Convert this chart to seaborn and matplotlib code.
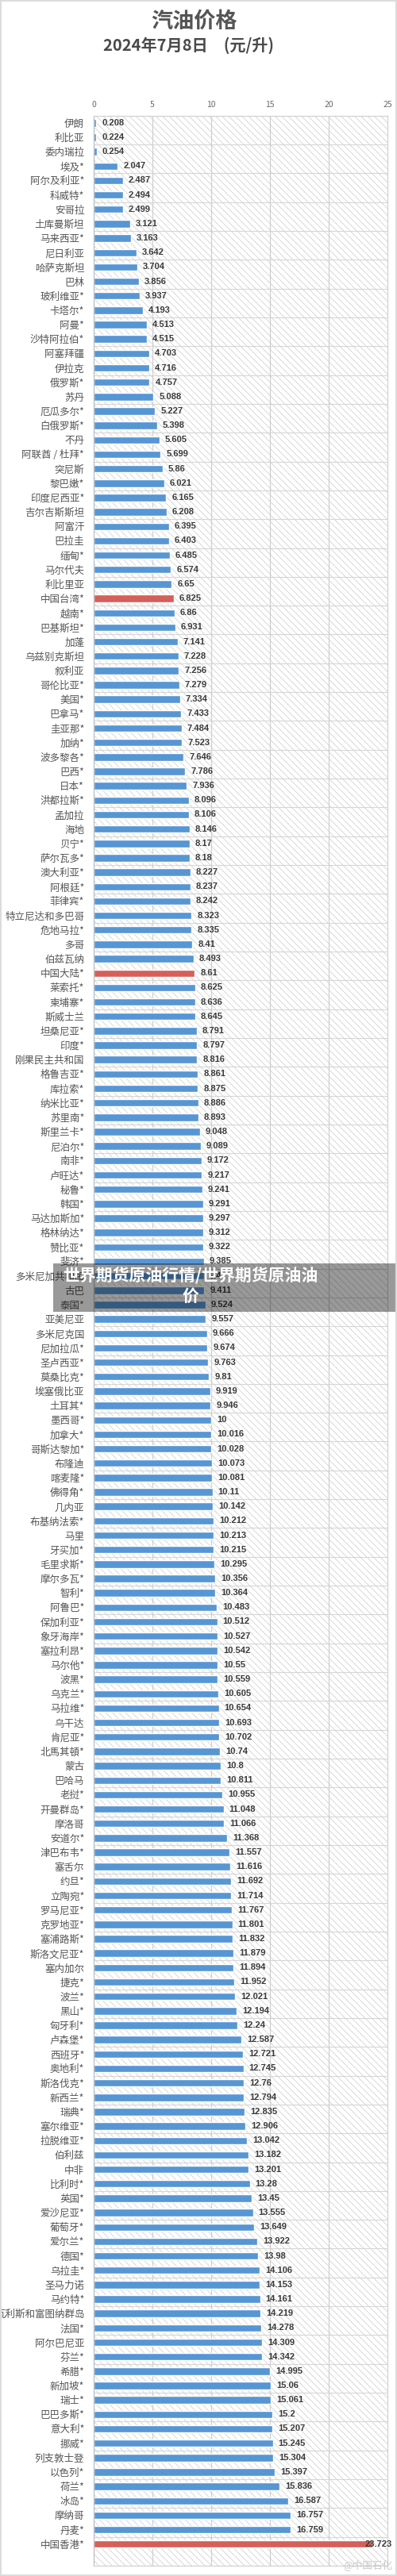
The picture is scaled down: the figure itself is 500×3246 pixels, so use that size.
import numpy as np
import pandas as pd
import matplotlib
matplotlib.use('Agg')
import matplotlib.pyplot as plt
from matplotlib.patches import Rectangle
import seaborn as sns

# 国家 / 地区
countries = [
    '伊朗', '利比亚', '委内瑞拉', '埃及*', '阿尔及利亚*', '科威特*', '安哥拉', '土库曼斯坦',
    '马来西亚*', '尼日利亚', '哈萨克斯坦', '巴林', '玻利维亚*', '卡塔尔*', '阿曼*', '沙特阿拉伯*',
    '阿塞拜疆', '伊拉克', '俄罗斯*', '苏丹', '厄瓜多尔*', '白俄罗斯*', '不丹', '阿联酋 / 杜拜*',
    '突尼斯', '黎巴嫩*', '印度尼西亚*', '吉尔吉斯斯坦', '阿富汗', '巴拉圭', '缅甸*', '马尔代夫',
    '利比里亚', '中国台湾*', '越南*', '巴基斯坦*', '加蓬', '乌兹别克斯坦', '叙利亚', '哥伦比亚*',
    '美国*', '巴拿马*', '圭亚那*', '加纳*', '波多黎各*', '巴西*', '日本*', '洪都拉斯*',
    '孟加拉', '海地', '贝宁*', '萨尔瓦多*', '澳大利亚*', '阿根廷*', '菲律宾*', '特立尼达和多巴哥',
    '危地马拉*', '多哥', '伯兹瓦纳', '中国大陆*', '莱索托*', '柬埔寨*', '斯威士兰', '坦桑尼亚*',
    '印度*', '刚果民主共和国', '格鲁吉亚*', '库拉索*', '纳米比亚*', '苏里南*', '斯里兰卡*', '尼泊尔*',
    '南非*', '卢旺达*', '秘鲁*', '韩国*', '马达加斯加*', '格林纳达*', '赞比亚*', '斐济*',
    '多米尼加共和国', '古巴', '泰国*', '亚美尼亚', '多米尼克国', '尼加拉瓜*', '圣卢西亚*', '莫桑比克*',
    '埃塞俄比亚', '土耳其*', '墨西哥*', '加拿大*', '哥斯达黎加*', '布隆迪', '喀麦隆*', '佛得角*',
    '几内亚', '布基纳法索*', '马里', '牙买加*', '毛里求斯*', '摩尔多瓦*', '智利*', '阿鲁巴*',
    '保加利亚*', '象牙海岸*', '塞拉利昂*', '马尔他*', '波黑*', '乌克兰*', '马拉维*', '乌干达',
    '肯尼亚*', '北馬其頓*', '蒙古', '巴哈马', '老挝*', '开曼群岛*', '摩洛哥', '安道尔*',
    '津巴布韦*', '塞舌尔', '约旦*', '立陶宛*', '罗马尼亚*', '克罗地亚*', '塞浦路斯*', '斯洛文尼亚*',
    '塞内加尔', '捷克*', '波兰*', '黑山*', '匈牙利*', '卢森堡*', '西班牙*', '奥地利*',
    '斯洛伐克*', '新西兰*', '瑞典*', '塞尔维亚*', '拉脱维亚*', '伯利兹', '中非', '比利时*',
    '英国*', '爱沙尼亚*', '葡萄牙*', '爱尔兰*', '德国*', '乌拉圭*', '圣马力诺', '马约特*',
    '瓦利斯和富图纳群岛', '法国*', '阿尔巴尼亚', '芬兰*', '希腊*', '新加坡*', '瑞士*', '巴巴多斯*',
    '意大利*', '挪威*', '列支敦士登', '以色列*', '荷兰*', '冰岛*', '摩纳哥', '丹麦*',
    '中国香港*',
]

# 汽油价格（元/升）
prices = [
    0.208, 0.224, 0.254, 2.047, 2.487, 2.494, 2.499, 3.121,
    3.163, 3.642, 3.704, 3.856, 3.937, 4.193, 4.513, 4.515,
    4.703, 4.716, 4.757, 5.088, 5.227, 5.398, 5.605, 5.699,
    5.86, 6.021, 6.165, 6.208, 6.395, 6.403, 6.485, 6.574,
    6.65, 6.825, 6.86, 6.931, 7.141, 7.228, 7.256, 7.279,
    7.334, 7.433, 7.484, 7.523, 7.646, 7.786, 7.936, 8.096,
    8.106, 8.146, 8.17, 8.18, 8.227, 8.237, 8.242, 8.323,
    8.335, 8.41, 8.493, 8.61, 8.625, 8.636, 8.645, 8.791,
    8.797, 8.816, 8.861, 8.875, 8.886, 8.893, 9.048, 9.089,
    9.172, 9.217, 9.241, 9.291, 9.297, 9.312, 9.322, 9.385,
    9.4, 9.411, 9.524, 9.557, 9.666, 9.674, 9.763, 9.81,
    9.919, 9.946, 10, 10.016, 10.028, 10.073, 10.081, 10.11,
    10.142, 10.212, 10.213, 10.215, 10.295, 10.356, 10.364, 10.483,
    10.512, 10.527, 10.542, 10.55, 10.559, 10.605, 10.654, 10.693,
    10.702, 10.74, 10.8, 10.811, 10.955, 11.048, 11.066, 11.368,
    11.557, 11.616, 11.692, 11.714, 11.767, 11.801, 11.832, 11.879,
    11.894, 11.952, 12.021, 12.194, 12.24, 12.587, 12.721, 12.745,
    12.76, 12.794, 12.835, 12.906, 13.042, 13.182, 13.201, 13.28,
    13.45, 13.555, 13.649, 13.922, 13.98, 14.106, 14.153, 14.161,
    14.219, 14.278, 14.309, 14.342, 14.995, 15.06, 15.061, 15.2,
    15.207, 15.245, 15.304, 15.397, 15.836, 16.587, 16.757, 16.759,
    23.723,
]

highlight = ['中国台湾*', '中国大陆*', '中国香港*']
x_ticks = [0, 5, 10, 15, 20, 25]

BLUE = '#5796d4'
RED = '#d65f59'

df = pd.DataFrame({'name': countries, 'price': prices})
df['group'] = np.where(df['name'].isin(highlight), 'cn', 'other')

sns.set_theme(style='white')
plt.rcParams['font.family'] = ['Noto Sans CJK SC', 'DejaVu Sans']
plt.rcParams['hatch.linewidth'] = 0.6

W, H = 500, 3246
fig = plt.figure(figsize=(W / 100, H / 100), dpi=100)
fig.patch.set_facecolor('white')

ax_left, ax_right, ax_top, ax_bot = 118, 488, 145.7, 3233
ax = fig.add_axes([ax_left / W, 1 - ax_bot / H, (ax_right - ax_left) / W, (ax_bot - ax_top) / H])

# 斜线底纹
ax.add_patch(Rectangle((0, 0), 1, 1, transform=ax.transAxes, facecolor='white',
                       edgecolor='#d2d2d2', hatch='\\\\\\\\', lw=0, zorder=0))

sns.barplot(data=df, x='price', y='name', hue='group', order=countries,
            palette={'other': BLUE, 'cn': RED}, dodge=False, legend=False,
            width=0.52, saturation=1, ax=ax, zorder=2)

n = len(countries)
ax.set_ylim(n + 0.5, -0.5)
ax.set_xlim(0, 25)
ax.set_xticks(x_ticks)
ax.set_xlabel('')
ax.set_ylabel('')

# 每两行一条分隔线
for yy in np.arange(1.5, n, 2):
    ax.axhline(yy, color='#d6d6d6', lw=0.8, zorder=1)
for xx in x_ticks[1:-1]:
    ax.axvline(xx, color='#cfcfcf', lw=0.9, zorder=1)

ax.xaxis.tick_top()
ax.tick_params(axis='x', length=0, pad=6.5, labelsize=7.5, labelcolor='#6a6a6a')
ax.tick_params(axis='y', length=0, pad=8.5, labelsize=9, labelcolor='#555555')
for sp in ax.spines.values():
    sp.set_color('#d2d2d2')
    sp.set_linewidth(0.9)
ax.spines['left'].set_color('#bdbdbd')

# 数值标签
for i, v in enumerate(prices):
    lbl = f'{v:g}'
    if v > 22:
        ax.annotate(lbl, xy=(1, i), xycoords=('axes fraction', 'data'),
                    xytext=(6, 0), textcoords='offset pixels', ha='right', va='center',
                    fontsize=8, fontweight='bold', color='#3a3a3a',
                    family=['Liberation Sans', 'DejaVu Sans'], zorder=5,
                    annotation_clip=False)
    else:
        ax.annotate(lbl, xy=(v, i), xytext=(7, 0), textcoords='offset pixels',
                    ha='left', va='center', fontsize=8, fontweight='bold', color='#3a3a3a',
                    family=['Liberation Sans', 'DejaVu Sans'], zorder=5)

# 标题
fig.text(245 / W, 1 - 27 / H, '汽油价格', ha='center', va='center',
         fontsize=19.5, fontweight='bold', color='#555555')
fig.text(238 / W, 1 - 57 / H, '2024年7月8日\u3000(元/升)', ha='center', va='center',
         fontsize=14.5, fontweight='bold', color='#4a4a4a')

# 覆盖的文字条
fig.patches.append(Rectangle((67 / W, 1 - 1653 / H), (W - 67) / W, 61 / H,
                             transform=fig.transFigure, facecolor='black', alpha=0.4,
                             lw=0, zorder=10))
fig.text(240 / W, 1 - 1608 / H, '世界期货原油行情/世界期货原油油', ha='center', va='center',
         fontsize=15, fontweight='bold', color='white', zorder=11)
fig.text(240 / W, 1 - 1633 / H, '价', ha='center', va='center',
         fontsize=15, fontweight='bold', color='white', zorder=11)

# 水印
fig.text(494 / W, 1 - 3233 / H, '@中国石化', ha='right', va='center',
         fontsize=9, color='#c9c9c9', zorder=11)

# 外框
fig.patches.append(Rectangle((0, 0), 1, 1, transform=fig.transFigure, fill=False,
                             edgecolor='#dcdcdc', lw=3, zorder=12))

fig.savefig('out.png', dpi=100)
